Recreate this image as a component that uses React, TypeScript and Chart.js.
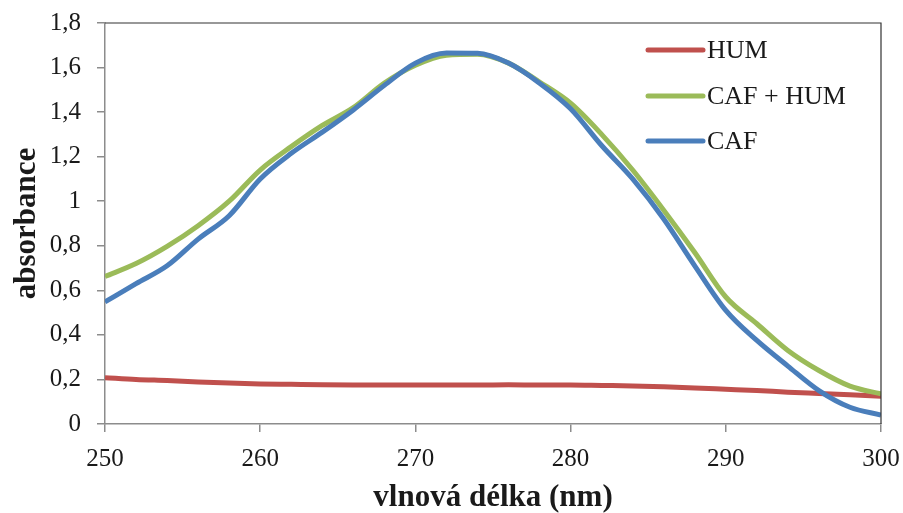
import React, { useEffect, useRef } from "react";
import { Chart, registerables } from "chart.js";

Chart.register(...registerables);

const wavelengths = [250, 252, 254, 256, 258, 260, 262, 264, 266, 268, 270, 272, 274, 276, 278, 280, 282, 284, 286, 288, 290, 292, 294, 296, 298, 300];
const humValues = [0.208, 0.2, 0.195, 0.189, 0.184, 0.18, 0.178, 0.176, 0.175, 0.175, 0.175, 0.175, 0.175, 0.176, 0.175, 0.175, 0.173, 0.171, 0.167, 0.162, 0.156, 0.15, 0.143, 0.137, 0.131, 0.125];
const cafHumValues = [0.662, 0.72, 0.797, 0.89, 1.0, 1.14, 1.245, 1.34, 1.42, 1.53, 1.61, 1.655, 1.66, 1.62, 1.535, 1.44, 1.3, 1.14, 0.96, 0.77, 0.57, 0.45, 0.33, 0.24, 0.17, 0.135];
const cafValues = [0.548, 0.63, 0.71, 0.83, 0.935, 1.1, 1.215, 1.31, 1.41, 1.52, 1.62, 1.665, 1.664, 1.62, 1.53, 1.415, 1.25, 1.1, 0.92, 0.71, 0.51, 0.375, 0.26, 0.15, 0.075, 0.04];
const seriesLabels = ["HUM", "CAF + HUM", "CAF"];
const seriesColors = ["#C0504D", "#9BBB59", "#4A7EBB"];
const xTitle = "vlnová délka (nm)";
const yTitle = "absorbance";

const FONT = "'Liberation Serif', 'Times New Roman', serif";

const frameAndLegend = {
  id: "frameAndLegend",
  afterDraw(chart: any) {
    const { ctx, chartArea } = chart;
    const { left, right, top, bottom } = chartArea;
    ctx.save();
    ctx.strokeStyle = "#333333";
    ctx.lineWidth = 1.2;
    ctx.beginPath();
    ctx.moveTo(left, top);
    ctx.lineTo(right, top);
    ctx.lineTo(right, bottom);
    ctx.stroke();
    const x0 = right - 233;
    const x1 = right - 178;
    const ys = [top + 27, top + 73, top + 118];
    ctx.font = `26px ${FONT}`;
    ctx.textBaseline = "middle";
    ctx.textAlign = "left";
    seriesLabels.forEach((label, i) => {
      ctx.strokeStyle = seriesColors[i];
      ctx.lineWidth = 5;
      ctx.lineCap = "round";
      ctx.beginPath();
      ctx.moveTo(x0, ys[i]);
      ctx.lineTo(x1, ys[i]);
      ctx.stroke();
      ctx.fillStyle = "#1a1a1a";
      ctx.fillText(label, x1 + 4, ys[i] + 1);
    });
    ctx.restore();
  },
};

export default function App() {
  const ref = useRef<HTMLCanvasElement | null>(null);
  useEffect(() => {
    document.body.style.margin = "0";
    if (!ref.current) return;
    const seriesValues = [humValues, cafHumValues, cafValues];
    const orders = [3, 2, 1];
    const chart = new Chart(ref.current, {
      type: "line",
      data: {
        datasets: seriesLabels.map((label, i) => ({
          label,
          data: wavelengths.map((w, j) => ({ x: w, y: seriesValues[i][j] })),
          borderColor: seriesColors[i],
          backgroundColor: seriesColors[i],
          borderWidth: 5,
          pointRadius: 0,
          cubicInterpolationMode: "monotone" as const,
          fill: false,
          order: orders[i],
        })),
      },
      options: {
        animation: false,
        responsive: false,
        maintainAspectRatio: false,
        layout: { autoPadding: false, padding: { left: 0, top: 23, right: 22, bottom: 0 } },
        plugins: { legend: { display: false }, tooltip: { enabled: false } },
        scales: {
          x: {
            type: "linear",
            min: 250,
            max: 300,
            afterFit: (s: any) => { s.height = 89; s.paddingLeft = 0; s.paddingRight = 0; },
            ticks: { stepSize: 10, padding: 12, color: "#1a1a1a", font: { family: FONT, size: 25 } },
            grid: { display: true, drawOnChartArea: false, tickLength: 8, color: "#8c8c8c", lineWidth: 1.5 },
            border: { color: "#8c8c8c", width: 1.5 },
            title: { display: true, text: xTitle, color: "#1a1a1a", padding: 0, font: { family: FONT, size: 31, weight: "bold", lineHeight: 1 } },
          },
          y: {
            type: "linear",
            min: 0,
            max: 1.8,
            afterFit: (s: any) => { s.width = 105; s.paddingTop = 0; s.paddingBottom = 0; },
            ticks: {
              stepSize: 0.2,
              padding: 16,
              color: "#1a1a1a",
              font: { family: FONT, size: 25 },
              callback: (v: any) => String(Math.round(Number(v) * 10) / 10).replace(".", ","),
            },
            grid: { display: true, drawOnChartArea: false, tickLength: 8, color: "#8c8c8c", lineWidth: 1.5 },
            border: { color: "#8c8c8c", width: 1.5 },
            title: { display: true, text: yTitle, color: "#1a1a1a", padding: { top: 11, bottom: 0 }, font: { family: FONT, size: 31, weight: "bold", lineHeight: 1 } },
          },
        },
      },
      plugins: [frameAndLegend],
    });
    return () => chart.destroy();
  }, []);
  return (
    <div style={{ width: 903, height: 513, background: "#fff" }}>
      <canvas ref={ref} width={903} height={513} style={{ display: "block" }} />
    </div>
  );
}
